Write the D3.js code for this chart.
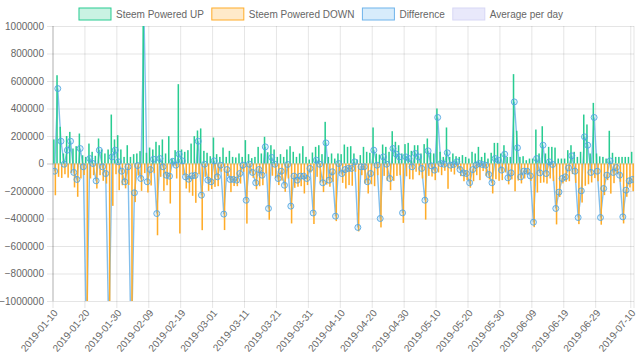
<!DOCTYPE html>
<html>
<head>
<meta charset="utf-8">
<script src="https://cdn.jsdelivr.net/npm/d3@7"></script>
<style>
  body { margin: 0; background: #fff; }
  text { font-family: "Liberation Sans", Arial, Helvetica, sans-serif; }
</style>
</head>
<body>
<svg id="chart" width="640" height="361"></svg>
<script>
// daily values, 2019-01-10 .. 2019-07-10
const firstDay = new Date(2019, 0, 10);
const lastDay = new Date(2019, 6, 10);

const poweredUp = [
  175000, 642000, 267000, 73000, 200000, 230000, 109000, 126000, 218000, 60000,
  48000, 145000, 85000, 56000, 182000, 102000, 73000, 102000, 356000, 175000,
  206000, 102000, 48000, 133000, 48000, 68000, 73000, 90000, 1150000, 78000,
  116000, 102000, 158000, 133000, 175000, 73000, 199000, 36000, 97000, 577000,
  102000, 85000, 97000, 145000, 199000, 240000, 255000, 92000, 78000, 53000,
  189000, 68000, 48000, 116000, 48000, 92000, 48000, 44000, 73000, 48000,
  170000, 68000, 39000, 48000, 121000, 73000, 194000, 82000, 133000, 102000,
  48000, 68000, 48000, 102000, 126000, 85000, 48000, 73000, 126000, 48000,
  29000, 80000, 121000, 133000, 68000, 303000, 48000, 73000, 36000, 73000,
  68000, 138000, 121000, 126000, 73000, 29000, 61000, 121000, 85000, 78000,
  262000, 73000, 65000, 138000, 121000, 85000, 235000, 158000, 133000, 73000,
  141000, 150000, 92000, 133000, 133000, 73000, 141000, 182000, 78000, 73000,
  400000, 85000, 48000, 262000, 48000, 73000, 53000, 48000, 61000, 48000,
  36000, 85000, 73000, 121000, 48000, 78000, 36000, 78000, 150000, 150000,
  73000, 133000, 48000, 48000, 650000, 238000, 48000, 53000, 24000, 36000,
  36000, 247000, 73000, 271000, 73000, 121000, 121000, 116000, 36000, 36000,
  36000, 97000, 133000, 85000, 48000, 85000, 356000, 284000, 73000, 441000,
  73000, 52000, 48000, 36000, 238000, 78000, 48000, 48000, 48000, 48000,
  48000, 85000
];

const poweredDown = [
  -231000, -97000, -105000, -78000, -103000, -68000, -174000, -242000, -109000, -84000,
  -1348000, -109000, -85000, -182000, -85000, -126000, -146000, -1352000, -308000, -78000,
  -194000, -158000, -181000, -157000, -1448000, -281000, -88000, -199000, -70000, -211000,
  -160000, -71000, -522000, -97000, -199000, -158000, -291000, -20000, -109000, -509000,
  -83000, -182000, -211000, -235000, -286000, -78000, -485000, -97000, -199000, -186000,
  -170000, -165000, -60000, -484000, -92000, -208000, -164000, -165000, -146000, -60000,
  -437000, -73000, -104000, -188000, -165000, -158000, -73000, -409000, -89000, -107000,
  -157000, -124000, -206000, -109000, -436000, -177000, -169000, -165000, -218000, -157000,
  -65000, -440000, -97000, -138000, -208000, -153000, -169000, -133000, -419000, -73000,
  -141000, -182000, -157000, -162000, -61000, -494000, -85000, -145000, -218000, -151000,
  -165000, -85000, -465000, -90000, -126000, -194000, -126000, -90000, -85000, -432000,
  -93000, -114000, -116000, -60000, -85000, -109000, -408000, -90000, -95000, -121000,
  -65000, -85000, -53000, -184000, -60000, -80000, -41000, -92000, -129000, -121000,
  -176000, -129000, -85000, -121000, -55000, -90000, -116000, -218000, -114000, -126000,
  -121000, -65000, -152000, -116000, -202000, -124000, -145000, -109000, -80000, -126000,
  -463000, -211000, -141000, -138000, -146000, -109000, -128000, -443000, -244000, -145000,
  -133000, -129000, -77000, -141000, -441000, -284000, -162000, -151000, -138000, -106000,
  -129000, -445000, -230000, -121000, -219000, -143000, -77000, -133000, -436000, -242000,
  -174000, -201000
];

const difference = [
  -56000, 545000, 162000, -5000, 97000, 162000, -65000, -116000, 109000, -24000,
  -1300000, 36000, 0, -126000, 97000, -24000, -73000, -1250000, 48000, 97000,
  12000, -56000, -133000, -24000, -1400000, -213000, -15000, -109000, 1080000, -133000,
  -44000, 31000, -364000, 36000, -24000, -85000, -92000, 16000, -12000, 68000,
  19000, -97000, -114000, -90000, -87000, 162000, -230000, -5000, -121000, -133000,
  19000, -97000, -12000, -368000, -44000, -116000, -116000, -121000, -73000, -12000,
  -267000, -5000, -65000, -140000, -44000, -85000, 121000, -327000, 44000, -5000,
  -109000, -56000, -158000, -7000, -310000, -92000, -121000, -92000, -92000, -109000,
  -36000, -360000, 24000, -5000, -140000, 150000, -121000, -60000, -383000, 0,
  -73000, -44000, -36000, -36000, 12000, -465000, -24000, -24000, -133000, -73000,
  97000, -12000, -400000, 48000, -5000, -109000, 109000, 68000, 48000, -359000,
  48000, 36000, -24000, 73000, 48000, -36000, -267000, 92000, -17000, -48000,
  335000, 0, -5000, 78000, -12000, -7000, 12000, -44000, -68000, -73000,
  -140000, -44000, -12000, 0, -7000, -12000, -80000, -140000, 36000, 24000,
  -48000, 68000, -104000, -68000, 448000, 114000, -97000, -56000, -56000, -90000,
  -427000, 36000, -68000, 133000, -73000, 12000, -7000, -327000, -208000, -109000,
  -97000, -32000, 56000, -56000, -393000, -199000, 194000, 133000, -65000, 335000,
  -56000, -393000, -182000, -85000, 19000, -65000, -29000, -85000, -388000, -194000,
  -126000, -116000
];

const yTicks = [1000000, 800000, 600000, 400000, 200000, 0, -200000, -400000, -600000, -800000, -1000000];
const xTickLabels = [
  "2019-01-10", "2019-01-20", "2019-01-30", "2019-02-09", "2019-02-19", "2019-03-01",
  "2019-03-11", "2019-03-21", "2019-03-31", "2019-04-10", "2019-04-20", "2019-04-30",
  "2019-05-10", "2019-05-20", "2019-05-30", "2019-06-09", "2019-06-19", "2019-06-29", "2019-07-10"
];
const legendItems = [
  { name: "Steem Powered UP", fill: "rgba(40,204,145,0.25)", stroke: "rgb(40,204,145)" },
  { name: "Steem Powered DOWN", fill: "rgba(255,172,40,0.25)", stroke: "rgb(255,172,40)" },
  { name: "Difference", fill: "rgba(54,162,235,0.2)", stroke: "rgb(110,180,235)" },
  { name: "Average per day", fill: "rgba(200,200,245,0.4)", stroke: "rgb(215,215,245)" }
];

const fmt = d3.timeFormat("%Y-%m-%d");
const days = d3.timeDay.range(firstDay, d3.timeDay.offset(lastDay, 1)).map(fmt);

const rows = days.map((d, i) => ({ day: d, up: poweredUp[i], down: poweredDown[i], diff: difference[i] }));

const svg = d3.select("#chart");
const W = 640, H = 361;
const margin = { top: 26, right: 6, bottom: 60, left: 53 };
const innerW = W - margin.left - margin.right;
const innerH = H - margin.top - margin.bottom;

const x = d3.scaleBand().domain(days).range([0, innerW]);
const xSub = d3.scaleBand().domain(["up", "down"]).range([x.bandwidth() * 0.02, x.bandwidth() * 0.98]).padding(0);
const y = d3.scaleLinear().domain([-1000000, 1000000]).range([innerH, 0]);

const g = svg.append("g").attr("transform", `translate(${margin.left},${margin.top})`);

// grid + y axis
const yAxis = g.append("g")
  .call(d3.axisLeft(y).tickValues(yTicks).tickSize(0).tickPadding(9).tickFormat(d3.format("d")));
yAxis.select(".domain").remove();
yAxis.selectAll("text").attr("fill", "#666").style("font-size", "10px");
yAxis.selectAll(".tick").append("line")
  .attr("x1", -6).attr("x2", innerW)
  .attr("stroke", d => d === 0 ? "rgba(0,0,0,0.22)" : "rgba(0,0,0,0.1)");

// vertical grid lines sit on the left edge of each labelled day
const gridDays = xTickLabels.filter(d => days.includes(d));
g.append("g").selectAll("line")
  .data(gridDays.map(d => x(d)).concat([innerW]))
  .join("line")
  .attr("x1", d => d).attr("x2", d => d)
  .attr("y1", 0).attr("y2", innerH + 7)
  .attr("stroke", "rgba(0,0,0,0.1)");
g.append("line")
  .attr("x1", 0).attr("x2", 0).attr("y1", 0).attr("y2", innerH)
  .attr("stroke", "rgba(0,0,0,0.22)");

g.append("g")
  .selectAll("text")
  .data(gridDays)
  .join("text")
  .attr("transform", d => `translate(${x(d) + x.bandwidth() / 2 + 1},${innerH + 10}) rotate(-50)`)
  .attr("text-anchor", "end")
  .attr("dy", "0.35em")
  .attr("fill", "#666")
  .style("font-size", "10px")
  .text(d => d);

// plot area clip
svg.append("defs").append("clipPath").attr("id", "plot")
  .append("rect").attr("width", innerW).attr("height", innerH);
const plot = g.append("g").attr("clip-path", "url(#plot)");

// Difference line under the bars
const line = d3.line()
  .x(d => x(d.day) + x.bandwidth() / 2)
  .y(d => y(d.diff));
plot.append("path")
  .datum(rows)
  .attr("fill", "none")
  .attr("stroke", "rgba(90,170,230,0.75)")
  .attr("stroke-width", 1.4)
  .attr("d", line);

plot.append("g").selectAll("rect.up")
  .data(rows)
  .join("rect")
  .attr("x", d => x(d.day) + xSub("up"))
  .attr("width", xSub.bandwidth())
  .attr("y", d => y(d.up))
  .attr("height", d => y(0) - y(d.up))
  .attr("fill", "rgb(40,204,145)");

plot.append("g").selectAll("rect.down")
  .data(rows)
  .join("rect")
  .attr("x", d => x(d.day) + xSub("down"))
  .attr("width", xSub.bandwidth())
  .attr("y", y(0))
  .attr("height", d => y(d.down) - y(0))
  .attr("fill", "rgb(255,172,40)");

plot.append("g").selectAll("circle")
  .data(rows)
  .join("circle")
  .attr("cx", d => x(d.day) + x.bandwidth() / 2)
  .attr("cy", d => y(d.diff))
  .attr("r", 3)
  .attr("fill", "rgba(54,162,235,0.15)")
  .attr("stroke", "rgba(80,165,225,0.85)")
  .attr("stroke-width", 1);

// legend
const legend = svg.append("g");
let lx = 0;
const items = legend.selectAll("g").data(legendItems).join("g");
items.append("rect")
  .attr("width", 32).attr("height", 12)
  .attr("fill", d => d.fill).attr("stroke", d => d.stroke).attr("stroke-width", 1);
items.append("text")
  .attr("x", 37).attr("y", 6).attr("dy", "0.35em")
  .attr("fill", "#666").style("font-size", "10px")
  .text(d => d.name);
items.each(function () {
  const w = 37 + this.querySelector("text").getComputedTextLength();
  d3.select(this).attr("transform", `translate(${lx},0)`);
  lx += w + 8;
});
legend.attr("transform", `translate(${(W - (lx - 8)) / 2 + 1},8)`);
</script>
</body>
</html>
